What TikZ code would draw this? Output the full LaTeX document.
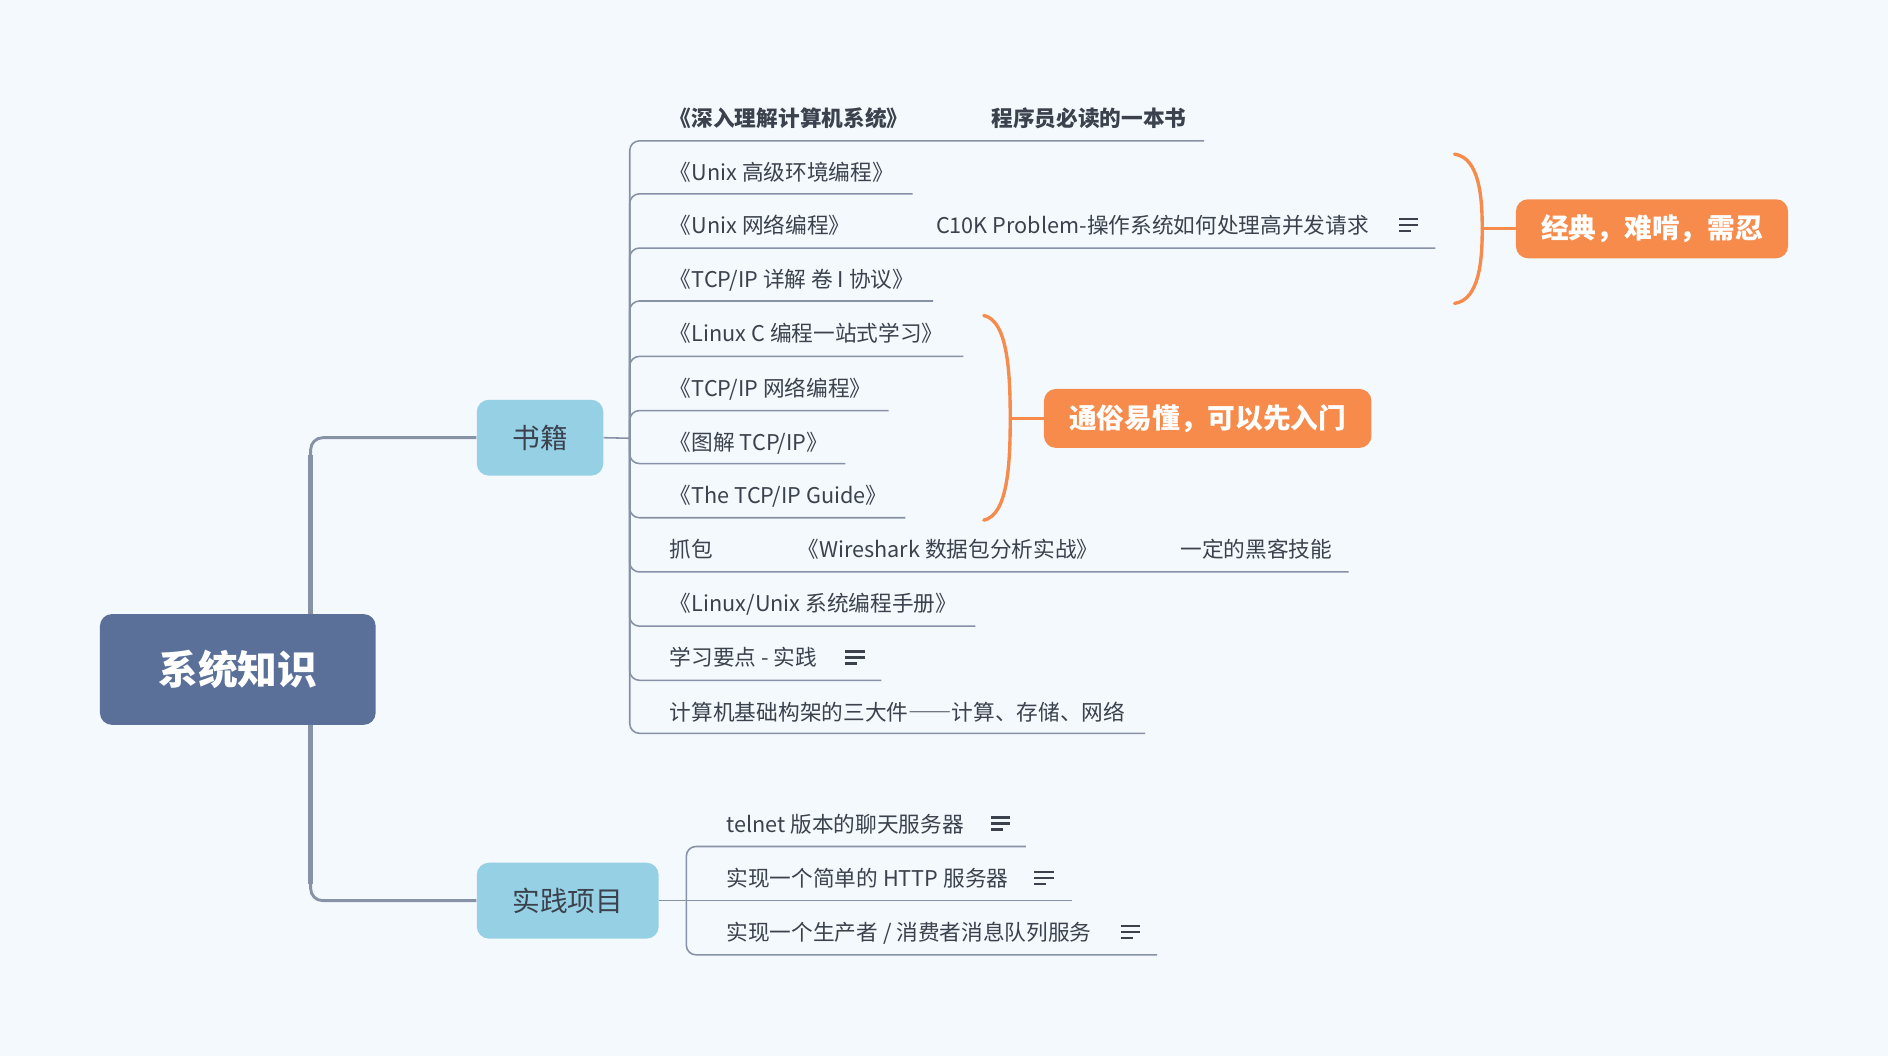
\documentclass[tikz,border=0pt]{standalone}
\usepackage{fontspec}
\setmainfont{Noto Sans CJK SC}
\definecolor{paper}{HTML}{F4F9FD}
\definecolor{wire}{HTML}{8792A6}
\definecolor{ink}{HTML}{3B424D}
\definecolor{rootblue}{HTML}{5A7099}
\definecolor{skyblue}{HTML}{96D0E5}
\definecolor{tangerine}{HTML}{F68B4C}
\tikzset{notes/.pic={\draw[ink, line width=1pt] (-8,-5) -- (8,-5) (-8,0) -- (8,0) (-8,5) -- (2,5);}}

\begin{document}
\begin{tikzpicture}[x=0.5pt, y=-0.5pt,
		rootbox/.style={fill=rootblue, rounded corners=5pt, text=white, font=\fontsize{16.5}{16.5}\selectfont\bfseries, minimum width=114.5pt, minimum height=46pt},
		branch/.style={fill=skyblue, rounded corners=5pt, text=ink, font=\fontsize{11.5}{11.5}\selectfont, minimum height=31.5pt},
		remark/.style={fill=tangerine, rounded corners=5pt, text=white, font=\fontsize{11.5}{11.5}\selectfont\bfseries, minimum height=24.5pt},
		leaf/.style={anchor=west, inner sep=0pt, text=ink, font=\fontsize{9}{9}\selectfont, text height=8pt, text depth=1pt},
		trunk/.style={draw=wire, line width=1.2pt, rounded corners=5pt},
		twig/.style={draw=wire, line width=0.65pt, rounded corners=4pt},
		brace/.style={draw=tangerine, line width=1.4pt, line cap=round}
	]
	\fill[paper] (0,0) rectangle (1568,877);
	\useasboundingbox (0,0) rectangle (1568,877);

	\node[rootbox] (root) at (197.5,556) {系统知识};
	\node[branch, minimum width=52.5pt] (books) at (448.5,363.5) {书籍};
	\node[branch, minimum width=75.5pt] (practice) at (471.5,748) {实践项目};

	\coordinate (tu) at (258,510);
	\coordinate (td) at (258,602);
	\draw[trunk] (tu) |- (books.west);
	\draw[trunk] (td) |- (practice.west);
	\draw[wire, line width=2.3pt] (tu) -- (258,378);
	\draw[wire, line width=2.3pt] (td) -- (258,734);

	\coordinate (bj) at (523,364);
	\coordinate (pj) at (570,748);
	\draw[twig] (books.east) -- (bj);
	\draw[twig] (practice.east) -- (pj);

	\node[leaf, font=\fontsize{9}{9}\selectfont\bfseries] (b1) at (556,98) {《深入理解计算机系统》};
	\node[leaf, font=\fontsize{9}{9}\selectfont\bfseries] (b1n) at (823,98) {程序员必读的一本书};
	\node[leaf] (b2) at (556,143) {《Unix 高级环境编程》};
	\node[leaf] (b3) at (556,187) {《Unix 网络编程》};
	\node[leaf] (b3n) at (777,187) {C10K Problem-操作系统如何处理高并发请求};
	\node[leaf] (b4) at (556,232) {《TCP/IP 详解 卷 I 协议》};
	\node[leaf] (b5) at (556,277) {《Linux C 编程一站式学习》};
	\node[leaf] (b6) at (556,322) {《TCP/IP 网络编程》};
	\node[leaf] (b7) at (556,367) {《图解 TCP/IP》};
	\node[leaf] (b8) at (556,411) {《The TCP/IP Guide》};
	\node[leaf] (b9) at (556,456) {抓包};
	\node[leaf] (b9n) at (662,456) {《Wireshark 数据包分析实战》};
	\node[leaf] (b9m) at (980,456) {一定的黑客技能};
	\node[leaf] (b10) at (556,501) {《Linux/Unix 系统编程手册》};
	\node[leaf] (b11) at (556,546) {学习要点 - 实践};
	\node[leaf] (b12) at (556,591) {计算机基础构架的三大件{\addfontfeature{CharacterWidth=Full}——}计算、存储、网络};
	\pic at (1170,187) {notes};
	\pic at (710,546) {notes};

	\coordinate (u1) at (1000,117);
	\coordinate (u2) at (758,161);
	\coordinate (u3) at (1192,206);
	\coordinate (u4) at (775,250);
	\coordinate (u5) at (800,296);
	\coordinate (u6) at (738,341);
	\coordinate (u7) at (702,385);
	\coordinate (u8) at (752,430);
	\coordinate (u9) at (1120,475);
	\coordinate (u10) at (810,520);
	\coordinate (u11) at (732,565);
	\coordinate (u12) at (951,609);
	\draw[twig] (bj) |- (u1);
	\draw[twig] (bj) |- (u2);
	\draw[twig] (bj) |- (u3);
	\draw[twig] (bj) |- (u4);
	\draw[twig] (bj) |- (u5);
	\draw[twig] (bj) |- (u6);
	\draw[twig] (bj) |- (u7);
	\draw[twig] (bj) |- (u8);
	\draw[twig] (bj) |- (u9);
	\draw[twig] (bj) |- (u10);
	\draw[twig] (bj) |- (u11);
	\draw[twig] (bj) |- (u12);

	\node[leaf] (p1) at (603,684) {telnet 版本的聊天服务器};
	\node[leaf] (p2) at (603,729) {实现一个简单的 HTTP 服务器};
	\node[leaf] (p3) at (603,774) {实现一个生产者 / 消费者消息队列服务};
	\pic at (831,684) {notes};
	\pic at (867,729) {notes};
	\pic at (939,774) {notes};
	\coordinate (v1) at (852,703);
	\coordinate (v2) at (890,748);
	\coordinate (v3) at (961,793);
	\draw[twig] (pj) |- (v1);
	\draw[twig] (pj) -- (v2);
	\draw[twig] (pj) |- (v3);

	\node[remark, minimum width=113pt] (hard) at (1372,190) {经典，难啃，需忍};
	\node[remark, minimum width=136pt] (easy) at (1003,347.5) {通俗易懂，可以先入门};
	\coordinate (k1) at (1231,190);
	\coordinate (k2) at (839,347.5);
	\draw[brace] (1208,128) .. controls (1229,131) and (1231,165) .. (k1) .. controls (1231,215) and (1229,249) .. (1208,252);
	\draw[brace] (k1) -- (hard.west);
	\draw[brace] (817,262) .. controls (837,266) and (839,310) .. (k2) .. controls (839,385) and (837,428) .. (817,432);
	\draw[brace] (k2) -- (easy.west);
\end{tikzpicture}
\end{document}
